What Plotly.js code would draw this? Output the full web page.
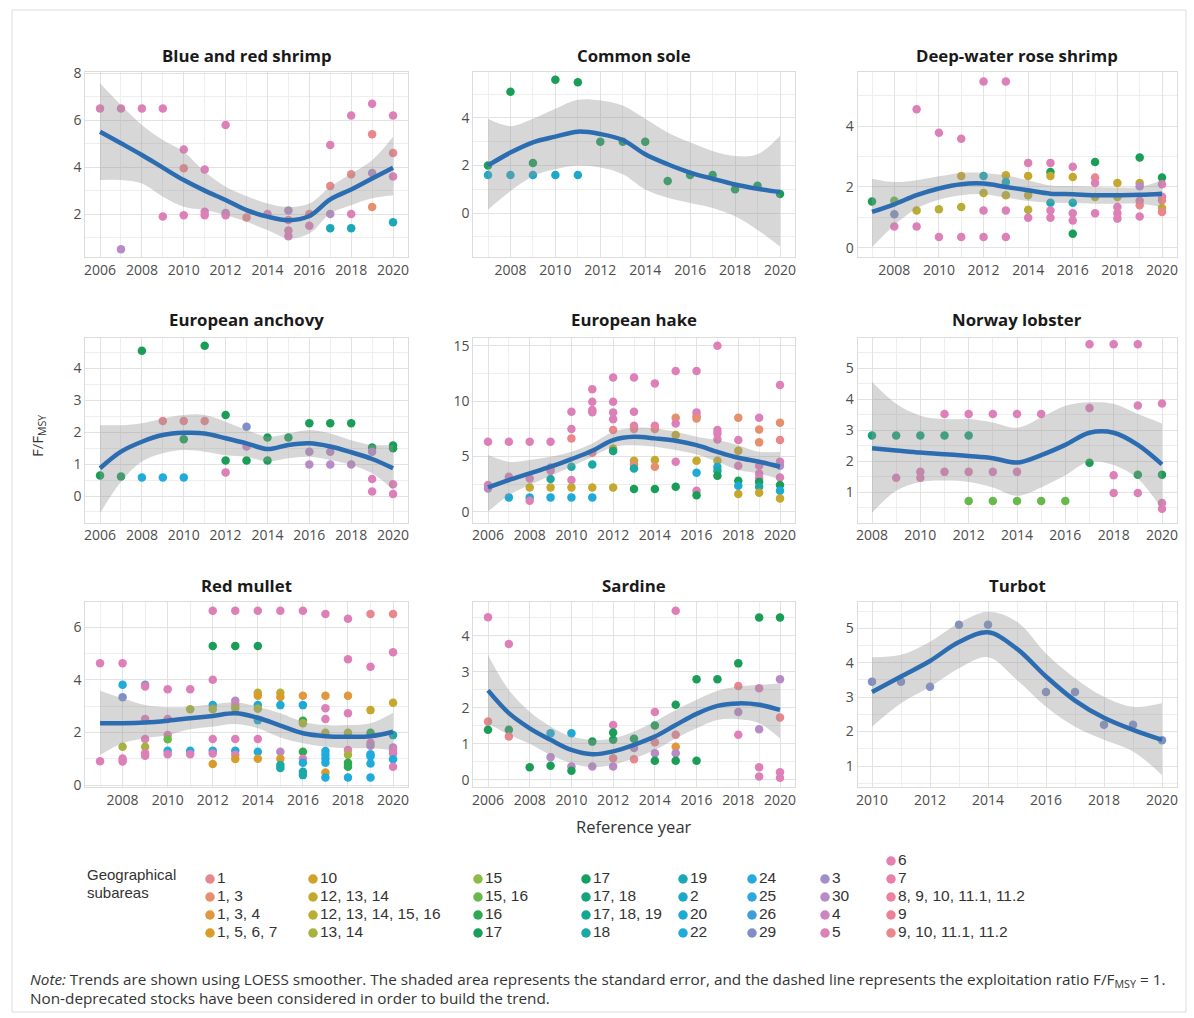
<!DOCTYPE html>
<html><head><meta charset="utf-8">
<script src="https://cdn.plot.ly/plotly-3.0.1.min.js"></script>
<style>html,body{margin:0;padding:0;background:#fff;}#chart{width:1194px;height:1018px;}</style>
</head><body><div id="chart"></div>
<script>
// ---------- legend: geographical subareas ----------
const subareas = ["1","1, 3","1, 3, 4","1, 5, 6, 7","10","12, 13, 14","12, 13, 14, 15, 16","13, 14","15","15, 16","16","17","17","17, 18","17, 18, 19","18","19","2","20","22","24","25","26","29","3","30","4","5","6","7","8, 9, 10, 11.1, 11.2","9","9, 10, 11.1, 11.2"];
const subareaColors = ["#E8868C","#E68F6C","#E0973E","#D99C2A","#D2A12A","#C6A82E","#B8AE36","#A8B23E","#8CBC44","#68B84C","#2FA852","#1A9E57","#13A063","#14A37A","#17A692","#1AA9A6","#1AA8B6","#1CA9C7","#1EAAD4","#21ABDC","#27AADF","#2EA6DF","#3C9FD8","#8090C6","#A08FC8","#B78BC6","#CD85C0","#DE80B8","#E580B2","#EA80AA","#EC82A0","#EC8196","#EA878D"];

// ---------- Blue and red shrimp ----------
const brsYear = [2006,2007,2007,2008,2009,2009,2010,2010,2010,2011,2011,2011,2012,2012,2012,2013,2014,2015,2015,2015,2015,2016,2016,2017,2017,2017,2017,2018,2018,2018,2018,2019,2019,2019,2019,2020,2020,2020,2020];
const brsValue = [6.5,6.5,0.5,6.5,6.5,1.9,4.75,3.95,1.95,3.9,2.1,1.95,5.8,2.05,1.95,1.85,2.0,2.15,1.75,1.3,1.05,2.0,1.5,4.95,3.2,2.0,1.4,6.2,3.7,2.0,1.4,6.7,5.4,3.75,2.3,6.2,4.6,3.6,1.65];
const brsArea = ["5","5","30","5","5","5","5","9, 10, 11.1, 11.2","5","5","5","5","5","30","5","9, 10, 11.1, 11.2","5","30","5","5","5","9, 10, 11.1, 11.2","5","5","9, 10, 11.1, 11.2","30","19","5","9, 10, 11.1, 11.2","5","19","5","9, 10, 11.1, 11.2","30","1, 3","5","9, 10, 11.1, 11.2","5","19"];
const brsTrendYear = [2006,2007,2008,2009,2010,2011,2012,2013,2014,2015,2016,2017,2018,2019,2020];
const brsTrend = [5.51,5.02,4.52,3.98,3.45,3.0,2.6,2.17,1.89,1.74,1.92,2.63,3.05,3.52,3.98];
const brsUpper = [7.58,6.65,5.8,5.16,4.66,3.8,3.17,2.77,2.45,2.3,2.45,3.17,3.73,4.3,5.3];
const brsLower = [3.45,3.45,3.3,2.74,2.31,2.17,1.96,1.67,1.32,0.96,1.17,2.03,2.38,2.67,2.8];

// ---------- Common sole ----------
const csYear = [2007,2007,2008,2008,2009,2009,2010,2010,2011,2011,2012,2013,2014,2015,2016,2017,2018,2019,2020];
const csValue = [2.0,1.6,5.1,1.6,2.1,1.6,5.6,1.6,5.5,1.6,3.0,3.0,3.0,1.35,1.6,1.6,1.0,1.15,0.8];
const csArea = ["17","2","17","2","17","2","17","2","17","2","17","17","17","17","17","17","17","17","17"];
const csTrendYear = [2007,2008,2009,2010,2011,2012,2013,2014,2015,2016,2017,2018,2019,2020];
const csTrend = [2.0,2.54,2.97,3.21,3.42,3.32,3.07,2.47,2.05,1.7,1.44,1.2,1.02,0.88];
const csUpper = [3.96,3.65,3.96,4.38,4.76,4.73,4.52,3.96,3.39,2.97,2.61,2.4,2.47,3.25];
const csLower = [0.14,0.92,1.55,1.84,2.0,1.91,1.63,0.99,0.64,0.42,0.21,-0.14,-0.71,-1.41];

// ---------- Deep-water rose shrimp ----------
const dwYear = [2007,2008,2008,2008,2009,2009,2009,2010,2010,2010,2011,2011,2011,2011,2012,2012,2012,2012,2012,2013,2013,2013,2013,2013,2013,2014,2014,2014,2014,2014,2015,2015,2015,2015,2015,2015,2016,2016,2016,2016,2016,2016,2017,2017,2017,2017,2017,2018,2018,2018,2018,2018,2019,2019,2019,2019,2019,2019,2020,2020,2020,2020,2020,2020];
const dwValue = [1.52,1.55,1.1,0.7,4.55,1.23,0.7,3.78,1.27,0.36,3.58,2.36,1.34,0.36,5.46,2.36,1.8,1.23,0.36,5.46,2.38,2.16,1.73,1.23,0.36,2.79,2.36,1.73,1.25,0.99,2.79,2.49,2.36,1.48,1.23,0.99,2.66,2.33,1.48,1.14,0.9,0.46,2.82,2.31,2.13,1.67,1.14,2.13,1.67,1.34,1.14,0.96,2.97,2.13,2.02,1.55,1.4,1.03,2.31,2.09,1.68,1.56,1.31,1.18];
const dwArea = ["17","15, 16","29","5","5","12, 13, 14, 15, 16","5","5","12, 13, 14, 15, 16","5","5","12, 13, 14","12, 13, 14, 15, 16","5","5","19","12, 13, 14, 15, 16","5","5","5","12, 13, 14","19","12, 13, 14, 15, 16","5","5","5","12, 13, 14","12, 13, 14, 15, 16","12, 13, 14, 15, 16","5","5","17","12, 13, 14","19","5","5","5","12, 13, 14","19","5","5","17","17","9, 10, 11.1, 11.2","5","12, 13, 14, 15, 16","5","12, 13, 14","12, 13, 14, 15, 16","5","5","5","17","12, 13, 14","30","5","9, 10, 11.1, 11.2","5","17","5","5","9, 10, 11.1, 11.2","12, 13, 14","9, 10, 11.1, 11.2"];
const dwTrendYear = [2007,2008,2009,2010,2011,2012,2013,2014,2015,2016,2017,2018,2019,2020];
const dwTrend = [1.18,1.43,1.73,1.95,2.09,2.11,2.0,1.89,1.78,1.76,1.73,1.73,1.74,1.78];
const dwUpper = [2.27,2.16,2.22,2.35,2.46,2.46,2.38,2.22,2.05,2.03,2.0,1.98,2.0,2.22];
const dwLower = [0.02,0.74,1.29,1.58,1.73,1.76,1.65,1.54,1.48,1.47,1.45,1.45,1.45,1.34];

// ---------- European anchovy ----------
const eaYear = [2006,2007,2008,2008,2009,2009,2010,2010,2010,2011,2011,2012,2012,2012,2013,2013,2013,2014,2014,2015,2016,2016,2016,2017,2017,2017,2018,2018,2019,2019,2019,2019,2020,2020,2020,2020];
const eaValue = [0.64,0.61,4.55,0.58,2.35,0.58,2.35,1.78,0.58,4.71,2.35,2.54,1.11,0.74,2.17,1.55,1.11,1.83,1.11,1.83,2.28,1.39,0.99,2.28,1.39,0.99,2.28,0.99,1.52,1.39,0.53,0.14,1.58,1.5,0.37,0.06];
const eaArea = ["17","17","17","22","9, 10, 11.1, 11.2","22","9, 10, 11.1, 11.2","17","22","17","9, 10, 11.1, 11.2","17","17","5","29","4","17","17","17","17","17","30","30","17","30","30","17","30","17","30","5","5","17","17","5","5"];
const eaTrendYear = [2006,2007,2008,2009,2010,2011,2012,2013,2014,2015,2016,2017,2018,2019,2020];
const eaTrend = [0.87,1.39,1.7,1.91,1.98,1.96,1.81,1.65,1.47,1.6,1.65,1.55,1.37,1.16,0.87];
const eaUpper = [2.22,2.22,2.28,2.43,2.54,2.54,2.33,2.07,1.86,1.96,2.07,1.96,1.75,1.6,1.6];
const eaLower = [-0.54,0.45,1.08,1.34,1.44,1.39,1.28,1.23,1.08,1.18,1.23,1.13,0.97,0.71,0.19];

// ---------- European hake ----------
const ehYear = [2006,2006,2006,2007,2007,2007,2008,2008,2008,2008,2008,2009,2009,2009,2009,2009,2009,2010,2010,2010,2010,2010,2010,2010,2011,2011,2011,2011,2011,2011,2011,2011,2012,2012,2012,2012,2012,2012,2012,2012,2013,2013,2013,2013,2013,2013,2013,2013,2014,2014,2014,2014,2014,2014,2015,2015,2015,2015,2015,2015,2016,2016,2016,2016,2016,2016,2016,2016,2017,2017,2017,2017,2017,2017,2017,2017,2018,2018,2018,2018,2018,2018,2018,2019,2019,2019,2019,2019,2019,2019,2019,2019,2020,2020,2020,2020,2020,2020,2020,2020,2020];
const ehValue = [6.33,2.41,2.1,6.33,3.16,1.3,6.33,3.0,2.2,1.3,1.0,6.33,4.0,3.7,2.95,2.2,1.3,9.04,7.47,6.63,4.07,2.86,2.2,1.3,11.08,9.94,9.2,9.0,5.33,4.28,2.2,1.3,12.14,9.94,8.98,8.37,7.38,5.72,5.48,2.2,12.14,9.04,7.77,7.47,4.61,4.3,3.92,2.05,11.6,7.77,7.47,4.67,4.07,2.05,12.71,8.49,7.98,6.93,4.52,2.26,12.71,8.98,8.64,8.43,4.61,3.52,1.9,1.5,15.0,7.38,7.08,6.54,4.61,4.07,3.7,3.25,8.49,6.48,5.51,4.16,2.8,2.35,1.6,8.49,7.44,6.27,4.16,3.46,3.0,2.7,2.26,1.72,11.45,8.04,6.48,4.52,4.16,3.1,2.41,1.9,1.2];
const ehArea = ["5","5","30","5","5","20","5","5","12, 13, 14","20","5","5","5","5","18","12, 13, 14","20","5","5","9, 10, 11.1, 11.2","18","5","12, 13, 14","20","5","5","5","5","9, 10, 11.1, 11.2","18","12, 13, 14","20","5","5","5","5","9, 10, 11.1, 11.2","12, 13, 14","17, 18","12, 13, 14","5","5","5","9, 10, 11.1, 11.2","12, 13, 14","1, 3","18","17","5","5","9, 10, 11.1, 11.2","12, 13, 14","1, 3","17","5","1, 3","5","12, 13, 14","5","17","5","5","5","1, 3","12, 13, 14","20","5","17","5","5","5","5","12, 13, 14","20","18","17","1, 3","5","12, 13, 14","5","17","20","12, 13, 14","5","1, 3","1, 3","5","5","5","17","18","12, 13, 14","5","1, 3","9, 10, 11.1, 11.2","5","30","5","17","20","12, 13, 14"];
const ehTrendYear = [2006,2007,2008,2009,2010,2011,2012,2013,2014,2015,2016,2017,2018,2019,2020];
const ehTrend = [2.2,2.86,3.46,4.07,4.76,5.51,6.48,6.78,6.63,6.42,6.02,5.42,4.88,4.52,4.07];
const ehUpper = [5.12,4.52,4.67,4.97,5.42,6.17,7.23,7.59,7.53,7.23,6.78,6.48,6.02,5.42,5.42];
const ehLower = [0.0,1.5,2.41,3.25,4.07,4.97,5.87,6.02,5.87,5.57,5.18,4.52,3.77,3.46,2.95];

// ---------- Norway lobster ----------
const nlYear = [2008,2009,2009,2010,2010,2010,2011,2011,2011,2012,2012,2012,2012,2013,2013,2013,2014,2014,2014,2015,2015,2016,2017,2017,2017,2018,2018,2018,2019,2019,2019,2019,2020,2020,2020,2020];
const nlValue = [2.83,2.83,1.47,2.83,1.66,1.47,3.52,2.83,1.66,3.52,2.83,1.66,0.72,3.52,1.66,0.72,3.52,1.66,0.72,3.52,0.72,0.72,5.77,3.72,1.95,5.77,1.55,0.98,5.77,3.8,1.57,0.98,3.86,1.57,0.66,0.47];
const nlArea = ["17, 18","17, 18","5","17, 18","5","5","5","17, 18","5","5","17, 18","5","15, 16","5","5","15, 16","5","5","15, 16","5","15, 16","15, 16","5","5","17","5","5","5","5","5","17","5","5","17","5","5"];
const nlTrendYear = [2008,2009,2010,2011,2012,2013,2014,2015,2016,2017,2018,2019,2020];
const nlTrend = [2.42,2.35,2.28,2.23,2.17,2.1,1.96,2.2,2.53,2.92,2.92,2.53,1.9];
const nlUpper = [4.56,3.85,3.47,3.36,3.36,3.25,3.08,3.41,3.79,3.9,3.85,3.52,3.22];
const nlLower = [0.34,1.05,1.33,1.38,1.33,1.16,0.89,1.16,1.55,1.99,1.88,1.44,0.45];

// ---------- Red mullet ----------
const rmYear = [2007,2007,2008,2008,2008,2008,2008,2008,2009,2009,2009,2009,2009,2009,2009,2010,2010,2010,2010,2010,2010,2011,2011,2011,2011,2012,2012,2012,2012,2012,2012,2012,2012,2012,2013,2013,2013,2013,2013,2013,2013,2013,2013,2014,2014,2014,2014,2014,2014,2014,2014,2014,2014,2015,2015,2015,2015,2015,2015,2015,2015,2016,2016,2016,2016,2016,2016,2016,2016,2016,2016,2017,2017,2017,2017,2017,2017,2017,2017,2017,2017,2017,2018,2018,2018,2018,2018,2018,2018,2018,2018,2018,2019,2019,2019,2019,2019,2019,2019,2019,2019,2019,2020,2020,2020,2020,2020,2020,2020,2020,2020];
const rmValue = [4.63,0.91,4.63,3.81,3.34,1.46,1.01,0.9,3.81,3.75,2.51,1.75,1.46,1.21,1.12,3.64,2.51,1.9,1.74,1.31,1.17,3.64,2.88,1.31,1.17,6.63,5.29,4.0,3.04,2.88,1.75,1.31,1.2,0.8,6.63,5.29,3.21,3.05,2.92,1.75,1.31,1.15,0.99,6.63,5.29,3.51,3.4,3.04,2.9,2.47,1.75,1.27,1.0,6.63,3.51,3.35,3.04,1.27,1.0,0.76,0.65,6.63,3.4,3.04,2.45,2.35,1.27,1.0,0.85,0.51,0.38,6.5,3.4,2.92,2.51,1.99,1.3,1.15,1.0,0.85,0.48,0.29,6.32,4.78,3.4,2.73,1.99,1.33,1.15,0.85,0.7,0.29,6.5,4.5,2.85,1.99,1.61,1.5,1.17,1.1,0.82,0.29,6.5,5.05,3.13,1.9,1.43,1.33,1.2,0.98,0.7];
const rmArea = ["5","5","5","22","29","13, 14","5","5","29","5","5","5","13, 14","5","5","5","5","5","15, 16","22","5","5","13, 14","22","5","5","17","5","20","13, 14","5","22","5","1, 5, 6, 7","5","17","30","5","13, 14","5","22","5","1, 5, 6, 7","5","17","12, 13, 14, 15, 16","1, 5, 6, 7","20","13, 14","20","5","22","1, 5, 6, 7","5","12, 13, 14, 15, 16","1, 5, 6, 7","20","30","1, 5, 6, 7","18","18","5","1, 3, 4","20","16","13, 14","16","5","22","18","18","5","1, 3, 4","5","5","13, 14","22","22","22","22","1, 5, 6, 7","22","5","5","1, 3, 4","5","13, 14","5","13, 14","16","16","22","9, 10, 11.1, 11.2","5","12, 13, 14","16","5","30","22","22","22","22","9, 10, 11.1, 11.2","5","12, 13, 14","18","30","5","5","22","5"];
const rmTrendYear = [2007,2008,2009,2010,2011,2012,2013,2014,2015,2016,2017,2018,2019,2020];
const rmTrend = [2.35,2.35,2.38,2.45,2.54,2.63,2.73,2.56,2.26,1.97,1.86,1.84,1.86,2.03];
const rmUpper = [3.59,3.3,3.04,2.96,2.98,3.07,3.15,2.98,2.73,2.41,2.28,2.28,2.35,2.75];
const rmLower = [1.14,1.59,1.78,1.9,2.12,2.22,2.32,2.16,1.81,1.59,1.46,1.4,1.4,1.33];

// ---------- Sardine ----------
const saYear = [2006,2006,2006,2007,2007,2007,2008,2009,2009,2009,2010,2010,2010,2011,2011,2012,2012,2012,2012,2012,2013,2013,2013,2014,2014,2014,2014,2014,2015,2015,2015,2015,2015,2015,2016,2016,2017,2018,2018,2018,2018,2019,2019,2019,2019,2019,2020,2020,2020,2020,2020];
const saValue = [4.51,1.62,1.39,3.77,1.39,1.2,0.35,1.29,0.63,0.39,1.29,0.37,0.25,1.06,0.37,1.52,1.31,1.11,0.6,0.37,1.14,0.88,0.57,1.88,1.51,1.04,0.74,0.53,4.69,2.08,1.25,0.92,0.74,0.53,2.79,0.53,2.79,3.23,2.6,1.88,1.25,4.5,2.54,1.4,0.35,0.09,4.5,2.79,1.73,0.21,0.06];
const saArea = ["5","9, 10, 11.1, 11.2","17","5","17","9, 10, 11.1, 11.2","17","20","30","17","20","30","17","17","30","5","17","17","9, 10, 11.1, 11.2","30","17","30","9, 10, 11.1, 11.2","5","17","9, 10, 11.1, 11.2","30","17","5","17","9, 10, 11.1, 11.2","1, 3, 4","30","17","17","17","17","17","9, 10, 11.1, 11.2","30","5","17","5","30","5","5","17","30","9, 10, 11.1, 11.2","5","5"];
const saTrendYear = [2006,2007,2008,2009,2010,2011,2012,2013,2014,2015,2016,2017,2018,2019,2020];
const saTrend = [2.48,1.85,1.43,1.11,0.83,0.71,0.79,0.97,1.2,1.52,1.83,2.05,2.12,2.08,1.94];
const saUpper = [3.46,2.49,1.89,1.48,1.2,1.11,1.15,1.34,1.62,1.94,2.22,2.47,2.59,2.63,2.68];
const saLower = [1.57,1.25,1.0,0.69,0.46,0.35,0.42,0.6,0.83,1.15,1.43,1.66,1.68,1.57,1.15];

// ---------- Turbot ----------
const tuYear = [2010,2011,2012,2013,2014,2016,2017,2018,2019,2020];
const tuValue = [3.45,3.45,3.3,5.1,5.1,3.15,3.15,2.2,2.2,1.75];
const tuArea = ["29","29","29","29","29","29","29","29","29","29"];
const tuTrendYear = [2010,2011,2012,2013,2014,2015,2016,2017,2018,2019,2020];
const tuTrend = [3.15,3.6,4.05,4.6,4.88,4.4,3.6,2.9,2.4,2.05,1.76];
const tuUpper = [4.16,4.23,4.61,5.15,5.48,5.19,4.27,3.55,3.01,2.72,2.82];
const tuLower = [2.14,2.82,3.3,3.84,4.16,3.5,2.72,2.14,1.76,1.42,0.74];

// ---------- build ----------
const W = 1194, H = 1018;
const FONT = "Open Sans, Noto Sans, DejaVu Sans, sans-serif";
const LEGFONT = "Liberation Sans, Arial, sans-serif";
const colorOf = {};
subareas.forEach((s, i) => { if (!(s in colorOf)) colorOf[s] = subareaColors[i]; });

const panels = [
  {title:"Blue and red shrimp", year:brsYear, value:brsValue, area:brsArea, ty:brsTrendYear, t:brsTrend, up:brsUpper, lo:brsLower, xr:[2005.3,2020.7], yr:[0.17,8.08], dy:2},
  {title:"Common sole", year:csYear, value:csValue, area:csArea, ty:csTrendYear, t:csTrend, up:csUpper, lo:csLower, xr:[2006.35,2020.65], yr:[-1.85,5.95], dy:2},
  {title:"Deep-water rose shrimp", year:dwYear, value:dwValue, area:dwArea, ty:dwTrendYear, t:dwTrend, up:dwUpper, lo:dwLower, xr:[2006.35,2020.65], yr:[-0.3,5.79], dy:2},
  {title:"European anchovy", year:eaYear, value:eaValue, area:eaArea, ty:eaTrendYear, t:eaTrend, up:eaUpper, lo:eaLower, xr:[2005.3,2020.7], yr:[-0.83,4.95], dy:1},
  {title:"European hake", year:ehYear, value:ehValue, area:ehArea, ty:ehTrendYear, t:ehTrend, up:ehUpper, lo:ehLower, xr:[2005.3,2020.7], yr:[-0.97,15.7], dy:5},
  {title:"Norway lobster", year:nlYear, value:nlValue, area:nlArea, ty:nlTrendYear, t:nlTrend, up:nlUpper, lo:nlLower, xr:[2007.4,2020.6], yr:[0.03,5.97], dy:1},
  {title:"Red mullet", year:rmYear, value:rmValue, area:rmArea, ty:rmTrendYear, t:rmTrend, up:rmUpper, lo:rmLower, xr:[2006.35,2020.65], yr:[-0.06,6.97], dy:2},
  {title:"Sardine", year:saYear, value:saValue, area:saArea, ty:saTrendYear, t:saTrend, up:saUpper, lo:saLower, xr:[2005.3,2020.7], yr:[-0.19,4.94], dy:1},
  {title:"Turbot", year:tuYear, value:tuValue, area:tuArea, ty:tuTrendYear, t:tuTrend, up:tuUpper, lo:tuLower, xr:[2009.5,2020.5], yr:[0.4,5.77], dy:1}
];

const colX = [[85.4,407.7],[473.4,794.6],[857.5,1176.5]];
const rowY = [[71.5,257],[338,522.5],[601.7,786.7]];
const titleY = [55, 320, 585];

const traces = [];
const layout = {
  width: W, height: H,
  margin: {l:0, r:0, t:0, b:0},
  paper_bgcolor: "#ffffff", plot_bgcolor: "rgba(0,0,0,0)",
  showlegend: false,
  font: {family: FONT, color: "#4d4d4d", size: 13},
  annotations: [], shapes: []
};

const gridMajor = "#e2e2e2", gridMinor = "#eeeeee";

panels.forEach((p, i) => {
  const n = i + 1, sfx = n === 1 ? "" : String(n);
  const c = i % 3, r = Math.floor(i / 3);
  const xa = "x" + sfx, ya = "y" + sfx;
  layout["xaxis" + sfx] = {
    domain: [colX[c][0] / W, colX[c][1] / W], anchor: ya, range: p.xr,
    tick0: 2006, dtick: 2, ticks: "", showline: true, mirror: true, linecolor: "#dcdcdc", linewidth: 1,
    showgrid: true, gridcolor: gridMajor, gridwidth: 1, zeroline: false,
    minor: {dtick: 1, tick0: 2006, showgrid: true, gridcolor: gridMinor, gridwidth: 1},
    tickfont: {size: 14, color: "#4d4d4d", family: FONT}, fixedrange: true
  };
  layout["yaxis" + sfx] = {
    domain: [1 - rowY[r][1] / H, 1 - rowY[r][0] / H], anchor: xa, range: p.yr,
    tick0: 0, dtick: p.dy, ticks: "", showline: true, mirror: true, linecolor: "#dcdcdc", linewidth: 1,
    showgrid: true, gridcolor: gridMajor, gridwidth: 1, zeroline: false,
    minor: {dtick: p.dy / 2, tick0: 0, showgrid: true, gridcolor: gridMinor, gridwidth: 1},
    tickfont: {size: 14, color: "#4d4d4d", family: FONT}, fixedrange: true
  };
  traces.push({type: "scatter", mode: "markers", x: p.year, y: p.value, xaxis: xa, yaxis: ya,
    marker: {size: 8.5, color: p.area.map(a => colorOf[a]), line: {width: 0}}, hoverinfo: "skip"});
  traces.push({type: "scatter", mode: "lines", x: p.ty, y: p.lo, xaxis: xa, yaxis: ya,
    line: {width: 0, shape: "spline", color: "rgba(0,0,0,0)"}, hoverinfo: "skip"});
  traces.push({type: "scatter", mode: "lines", x: p.ty, y: p.up, xaxis: xa, yaxis: ya,
    line: {width: 0, shape: "spline", color: "rgba(0,0,0,0)"}, fill: "tonexty",
    fillcolor: "rgba(150,150,150,0.38)", hoverinfo: "skip"});
  traces.push({type: "scatter", mode: "lines", x: p.ty, y: p.t, xaxis: xa, yaxis: ya,
    line: {width: 4.5, shape: "spline", color: "#2c6db2"}, hoverinfo: "skip"});
  layout.annotations.push({text: "<b>" + p.title + "</b>", xref: "paper", yref: "paper",
    x: (colX[c][0] + colX[c][1]) / 2 / W, y: 1 - titleY[r] / H, xanchor: "center", yanchor: "middle",
    showarrow: false, font: {size: 16.8, color: "#1a1a1a", family: FONT}});
});

// pixel overlay axis for the legend keys
layout.xaxis10 = {domain: [0, 1], range: [0, W], visible: false, fixedrange: true};
layout.yaxis10 = {domain: [0, 1], range: [H, 0], visible: false, fixedrange: true};
const legColX = [210, 313, 478, 586, 683, 752, 825, 891];
const legRowY = [879, 897, 915, 933];
const lx = [], ly = [];
subareas.forEach((s, i) => {
  if (i < 28) { lx.push(legColX[Math.floor(i / 4)]); ly.push(legRowY[i % 4]); }
  else { lx.push(legColX[7]); ly.push(861 + 18 * (i - 28)); }
});
traces.push({type: "scatter", mode: "markers+text", x: lx, y: ly, xaxis: "x10", yaxis: "y10",
  text: subareas, textposition: "middle right", textfont: {size: 15.5, color: "#333333", family: LEGFONT},
  marker: {size: 9.5, color: subareaColors}, hoverinfo: "skip", cliponaxis: false});

const note1 = "<i>Note:</i> Trends are shown using LOESS smoother. The shaded area represents the standard error, and the dashed line represents the exploitation ratio F/F<sub>MSY</sub> = 1.";
const note2 = "Non-deprecated stocks have been considered in order to build the trend.";
layout.annotations.push(
  {text: "Geographical", xref: "paper", yref: "paper", x: 85 / W, y: 1 - 874.5 / H,
   xanchor: "left", yanchor: "middle", showarrow: false, font: {size: 15, color: "#333333", family: LEGFONT}},
  {text: "subareas", xref: "paper", yref: "paper", x: 85 / W, y: 1 - 892.5 / H,
   xanchor: "left", yanchor: "middle", showarrow: false, font: {size: 15, color: "#333333", family: LEGFONT}},
  {text: "Reference year", xref: "paper", yref: "paper", x: 634 / W, y: 1 - 826 / H,
   xanchor: "center", yanchor: "middle", showarrow: false, font: {size: 16.5, color: "#333333", family: FONT}},
  {text: "F/F<sub>MSY</sub>", xref: "paper", yref: "paper", x: 38 / W, y: 1 - 436 / H,
   xanchor: "center", yanchor: "middle", textangle: -90, showarrow: false,
   font: {size: 15, color: "#333333", family: FONT}},
  {text: note1, xref: "paper", yref: "paper", x: 28 / W, y: 1 - 980 / H, xanchor: "left", yanchor: "middle",
   showarrow: false, font: {size: 15.3, color: "#333333", family: FONT}},
  {text: note2, xref: "paper", yref: "paper", x: 28 / W, y: 1 - 998 / H, xanchor: "left", yanchor: "middle",
   showarrow: false, font: {size: 15.3, color: "#333333", family: FONT}}
);
layout.shapes.push({type: "rect", xref: "paper", yref: "paper", x0: 12 / W, x1: 1186 / W, y0: 1 - 1012 / H, y1: 1 - 10 / H,
  line: {color: "#dddddd", width: 1}, fillcolor: "rgba(0,0,0,0)", layer: "below"});

Plotly.newPlot("chart", traces, layout, {staticPlot: true, displayModeBar: false});
</script>
</body></html>
